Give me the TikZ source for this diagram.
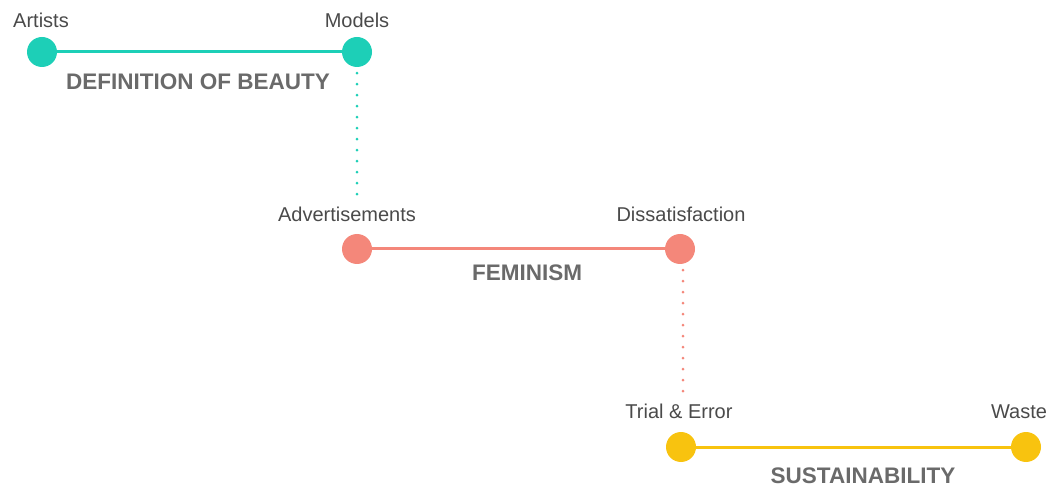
\documentclass[tikz,border=0pt]{standalone}
\usepackage{fontspec}
\setmainfont{Liberation Sans}
\usepackage{xcolor}
\definecolor{teal1}{HTML}{1DCFB7}
\definecolor{salmon1}{HTML}{F4877A}
\definecolor{gold1}{HTML}{F8C30F}
\definecolor{txt}{HTML}{4A4A4A}
\definecolor{head}{HTML}{6A6A6A}

\begin{document}
\begin{tikzpicture}
  [x=1pt,y=-1pt,
   dot/.style={circle,inner sep=0pt,minimum size=30pt},
   lbl/.style={text=txt,font=\fontsize{20}{20}\selectfont,inner sep=0pt,anchor=base},
   head/.style={text=head,font=\fontsize{22.5}{22.5}\selectfont\bfseries,inner sep=0pt,anchor=base}]
  \useasboundingbox (0,0) rectangle (1050,486);

  % circles
  \node[dot,fill=teal1] (1) at (42,52) {};
  \node[dot,fill=teal1] (2) at (357,52) {};
  \node[dot,fill=salmon1] (3) at (357,249) {};
  \node[dot,fill=salmon1] (4) at (680,249) {};
  \node[dot,fill=gold1] (5) at (681,447) {};
  \node[dot,fill=gold1] (6) at (1026,447) {};

  % labels
  \node[lbl] (l1) at (41,28) {Artists};
  \node[lbl] (l2) at (357,28) {Models};
  \node[lbl] (l3) at (347,222) {Advertisements};
  \node[lbl] (l4) at (681,222) {Dissatisfaction};
  \node[lbl] (l5) at (679,418) {Trial \& Error};
  \node[lbl] (l6) at (1019,418) {Waste};

  \node[head] (h1) at (198,90) {DEFINITION OF BEAUTY};
  \node[head] (h2) at (527,281) {FEMINISM};
  \node[head] (h3) at (863,483) {SUSTAINABILITY};

  \coordinate (d1) at (357,196);
  \coordinate (d2) at (683,392);

  \foreach \from/\to/\c in {1/2/teal1,3/4/salmon1,5/6/gold1}
    \draw[\c,line width=3pt] (\from) -- (\to);

  \draw[teal1,line width=3pt,line cap=round,dash pattern=on 0pt off 11pt] (2.south) ++(0,6) -- (d1);
  \draw[salmon1,line width=3pt,line cap=round,dash pattern=on 0pt off 11pt] (4.south) ++(3,6) -- (d2);

\end{tikzpicture}
\end{document}
